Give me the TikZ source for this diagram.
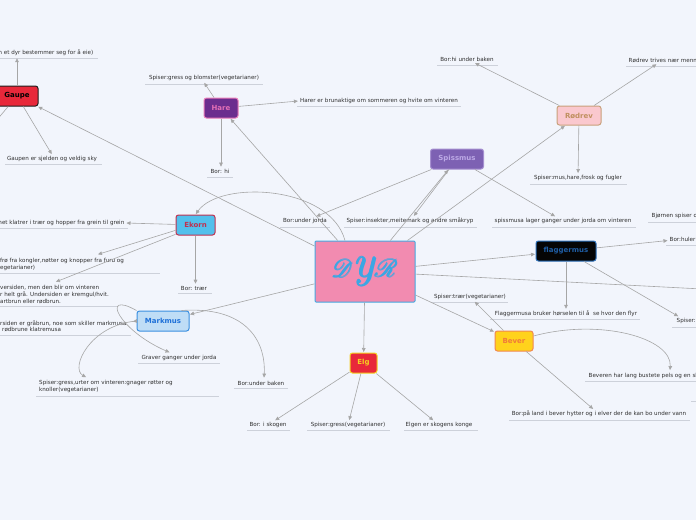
\documentclass[tikz,border=0pt]{standalone}
\usepackage{amsmath}
\usepackage{fontspec}
\usepackage{mathrsfs}
\usetikzlibrary{arrows.meta,calc}
\newfontfamily\leaffont{DejaVu Sans}
\definecolor{bg}{HTML}{F2F5FC}
\definecolor{connc}{HTML}{A6A6A6}
\definecolor{leafc}{HTML}{303030}
\definecolor{ulc}{HTML}{CDD1DA}
\tikzset{
  leaf/.style={font=\leaffont\fontsize{5.6}{6.6}\selectfont, text=leafc, inner sep=1.5pt, align=left},
  hub/.style={rounded corners=2.5pt, line width=1pt, font=\leaffont\bfseries\fontsize{7}{8}\selectfont, minimum height=20pt, inner sep=0pt},
  conn/.style={draw=connc, line width=0.6pt, -{Triangle[length=4pt,width=3.6pt]}, shorten >=0.5pt},
  plain/.style={draw=connc, line width=0.6pt},
  uline/.style={draw=ulc, line width=0.8pt}
}
\begin{document}
\begin{tikzpicture}[x=1pt,y=-1pt]
\useasboundingbox[fill=bg] (0,0) rectangle (696,520);

% central node
\node[draw={rgb,255:red,69;green,169;blue,224}, fill={rgb,255:red,242;green,139;blue,176}, line width=1pt, rounded corners=1pt, minimum width=100pt, minimum height=61pt, inner sep=0pt, text={rgb,255:red,59;green,167;blue,228}, font=\fontsize{46}{46}\selectfont] (dyr) at (365,271.5) {$\pmb{\mathscr{D}\mathit{y}\mathscr{R}}$};

% hub nodes
\node[hub, fill={rgb,255:red,232;green,40;blue,58}, draw={rgb,255:red,30;green,30;blue,30}, text=black, minimum width=42pt] (gaupe) at (17,96) {Gaupe};
\node[hub, fill={rgb,255:red,107;green,45;blue,142}, draw={rgb,255:red,233;green,124;blue,184}, text={rgb,255:red,228;green,111;blue,182}, minimum width=34pt] (hare) at (221,108) {Hare};
\node[hub, fill={rgb,255:red,250;green,200;blue,206}, draw={rgb,255:red,200;green,160;blue,122}, text={rgb,255:red,192;green,144;blue,96}, minimum width=44pt, minimum height=19pt] (rodrev) at (579,115.5) {Rødrev};
\node[hub, fill={rgb,255:red,125;green,97;blue,179}, draw={rgb,255:red,165;green,143;blue,208}, text={rgb,255:red,188;green,169;blue,229}, minimum width=53pt] (spissmus) at (457,159) {Spissmus};
\node[hub, fill={rgb,255:red,82;green,192;blue,236}, draw={rgb,255:red,192;green,48;blue,79}, text={rgb,255:red,192;green,48;blue,79}, minimum width=39pt] (ekorn) at (195.5,225) {Ekorn};
\node[hub, fill={rgb,255:red,191;green,221;blue,246}, draw={rgb,255:red,58;green,143;blue,224}, text={rgb,255:red,30;green,112;blue,216}, minimum width=52pt] (markmus) at (163,321) {Markmus};
\node[hub, fill={rgb,255:red,5;green,5;blue,5}, draw={rgb,255:red,44;green,111;blue,184}, text={rgb,255:red,31;green,94;blue,166}, minimum width=60pt] (flag) at (566,251) {flaggermus};
\node[hub, fill={rgb,255:red,255;green,210;blue,28}, draw={rgb,255:red,240;green,136;blue,80}, text={rgb,255:red,240;green,122;blue,58}, minimum width=38pt] (bever) at (514,341) {Bever};
\node[hub, fill={rgb,255:red,232;green,40;blue,58}, draw={rgb,255:red,245;green,208;blue,32}, text={rgb,255:red,245;green,208;blue,32}, minimum width=27pt] (elg) at (363.5,363) {Elg};

% off-picture targets
\coordinate (bjorn) at (760,292);
\coordinate (gaupeX) at (-20,140);

% leaf texts
\node[leaf, anchor=east] (topG) at (95,53) {m et dyr bestemmer seg for å eie)};
\node[leaf] (gaupen) at (52,159) {Gaupen er sjelden og veldig sky};
\node[leaf] (hareS) at (204,78) {Spiser:gress og blomster(vegetarianer)};
\node[leaf] (hareB) at (379,101) {Harer er brunaktige om sommeren og hvite om vinteren};
\node[leaf] (hareH) at (220,171) {Bor: hi};
\node[leaf] (revB) at (467,59) {Bor:hi under baken};
\node[leaf, anchor=west] (revT) at (627,60) {Rødrev trives nær menn};
\node[leaf] (revS) at (578,178) {Spiser:mus,hare,frosk og fugler};
\node[leaf] (spB) at (305,221) {Bor:under jorda};
\node[leaf] (spS) at (410,221) {Spiser:insekter,meitemark og andre småkryp};
\node[leaf] (spL) at (563,221) {spissmusa lager ganger under jorda om vinteren};
\node[leaf, anchor=west] (bjS) at (650,216) {Bjørnen spiser o};
\node[leaf, anchor=west] (flB) at (668,239) {Bor:huler};
\node[leaf] (flH) at (566,314) {Flaggermusa bruker hørselen til å\ \ se hvor den flyr};
\node[leaf, anchor=west] (flS) at (675,321) {Spiser:};
\node[leaf, anchor=east] (ekK) at (126,223) {net klatrer i trær og hopper fra grein til grein};
\node[leaf, anchor=north west] (ekF) at (-1.5,256.5) {frø fra kongler,nøtter og knopper fra furu og\\egetarianer)};
\node[leaf, anchor=north west] (ekV) at (-1.5,284) {versiden, men den blir om vinteren\\r helt grå. Undersiden er kremgul/hvit.\\artbrun eller rødbrun.};
\node[leaf] (ekB) at (194,288) {Bor: trær};
\node[leaf, anchor=north west] (mmR) at (-1.5,318.5) {rsiden er gråbrun, noe som skiller markmusa\\\hspace*{2pt}rødbrune klatremusa};
\node[leaf] (mmG) at (179,358) {Graver ganger under jorda};
\node[leaf, anchor=north west] (mmS) at (37.5,378.5) {Spiser:gress,urter om vinteren:gnager røtter og\\knoller(vegetarianer)};
\node[leaf] (mmB) at (261,383) {Bor:under baken};
\node[leaf] (elgB) at (268,425) {Bor: i skogen};
\node[leaf] (elgS) at (348,425) {Spiser:gress(vegetarianer)};
\node[leaf] (elgK) at (439,425) {Elgen er skogens konge};
\node[leaf] (bvS) at (470,297) {Spiser:trær(vegetarianer)};
\node[leaf, anchor=west] (bvP) at (587,376) {Beveren har lang bustete pels og en sk};
\node[leaf] (bvB) at (599,414) {Bor:på land i bever hytter og i elver der de kan bo under vann};

% underlines
\foreach \a/\b/\y in {0/98/58, 5/102/164, 145/263/84, 297/461/106, 207/233/177, 437/498/65, 626/696/66,
  530/627/184, 280/330/227, 344/477/227, 492/636/227, 648/696/222, 666/696/245, 490/640/319, 672/696/327,
  0/128/228, 0/160/273, 0/118/306, 178/212/293, 0/131/335, 138/220/363, 36/219/396, 234/288/388,
  247/290/430, 307/390/430, 404/478/430, 431/508/302, 585/696/381, 509/690/420, 691/696/401}
  \draw[uline] (\a,\y) -- (\b,\y);

% connectors from the centre
\draw[conn] (dyr) -- (gaupe);
\draw[conn] (dyr) -- (hare);
\draw[conn] (dyr) -- (rodrev);
\draw[conn] (dyr) -- (spissmus);
\draw[conn] ($(dyr.north)+(-20,0)$) .. controls (330,185) and (220,180) .. (ekorn.north);
\draw[conn] (dyr) -- (markmus);
\draw[conn] (dyr) -- (elg);
\draw[conn] (dyr) -- (flag);
\draw[conn] (dyr) -- (bever);
\draw[plain] (dyr) -- (bjorn);

% Gaupe
\draw[conn] (gaupe.north) -- (gaupe.north |- topG.south);
\draw[conn] (gaupe) -- (gaupen.north);
\draw[plain] (gaupe) -- (gaupeX);

% Hare
\draw[conn] (hare) -- (hareS.south);
\draw[conn] (hare) -- (hareB.west);
\draw[conn] (hare.south) -- (hare.south |- hareH.north);

% Rodrev
\draw[conn] (rodrev) -- (revB);
\draw[conn] (rodrev) -- (revT);
\draw[conn] (rodrev) -- (revS);

% Spissmus
\draw[conn] (spissmus) -- (spB);
\draw[conn] (spissmus) -- (spS);
\draw[conn] (spissmus) -- (spL);

% Ekorn
\draw[conn] (ekorn) -- (ekK.east);
\draw[conn] (ekorn.195) -- ($(ekF.north west)+(99,-2)$);
\draw[conn] (ekorn.205) -- ($(ekV.north west)+(57,-2)$);
\draw[conn] (ekorn.south) -- (ekorn.south |- ekB.north);

% Markmus
\draw[conn] (markmus.west) -- ($(mmR.north west)+(134,3)$);
\draw[conn] (markmus.north west) .. controls (100,290) and (118,330) .. ($(mmG.north)+(-9,-1)$);
\draw[conn] (markmus.west) .. controls (90,325) and (70,368) .. ($(mmS.north west)+(49,-1)$);
\draw[conn] ($(markmus.north east)+(-8,0)$) .. controls (245,306) and (266,340) .. ($(mmB.north)+(3,-1)$);

% Elg
\draw[conn] (elg) -- (elgB);
\draw[conn] (elg) -- (elgS);
\draw[conn] (elg) -- (elgK);

% flaggermus
\draw[conn] (flag) -- (flB);
\draw[conn] (flag.south) -- (flag.south |- flH.north);
\draw[conn] (flag) -- (flS);

% Bever
\draw[conn] (bever) -- (bvS);
\draw[conn] ($(bever.east)+(0,-5)$) .. controls (600,318) and (672,338) .. ($(bvP.north west)+(83,-1)$);
\draw[conn] (bever) -- (bvB);
\end{tikzpicture}
\end{document}
